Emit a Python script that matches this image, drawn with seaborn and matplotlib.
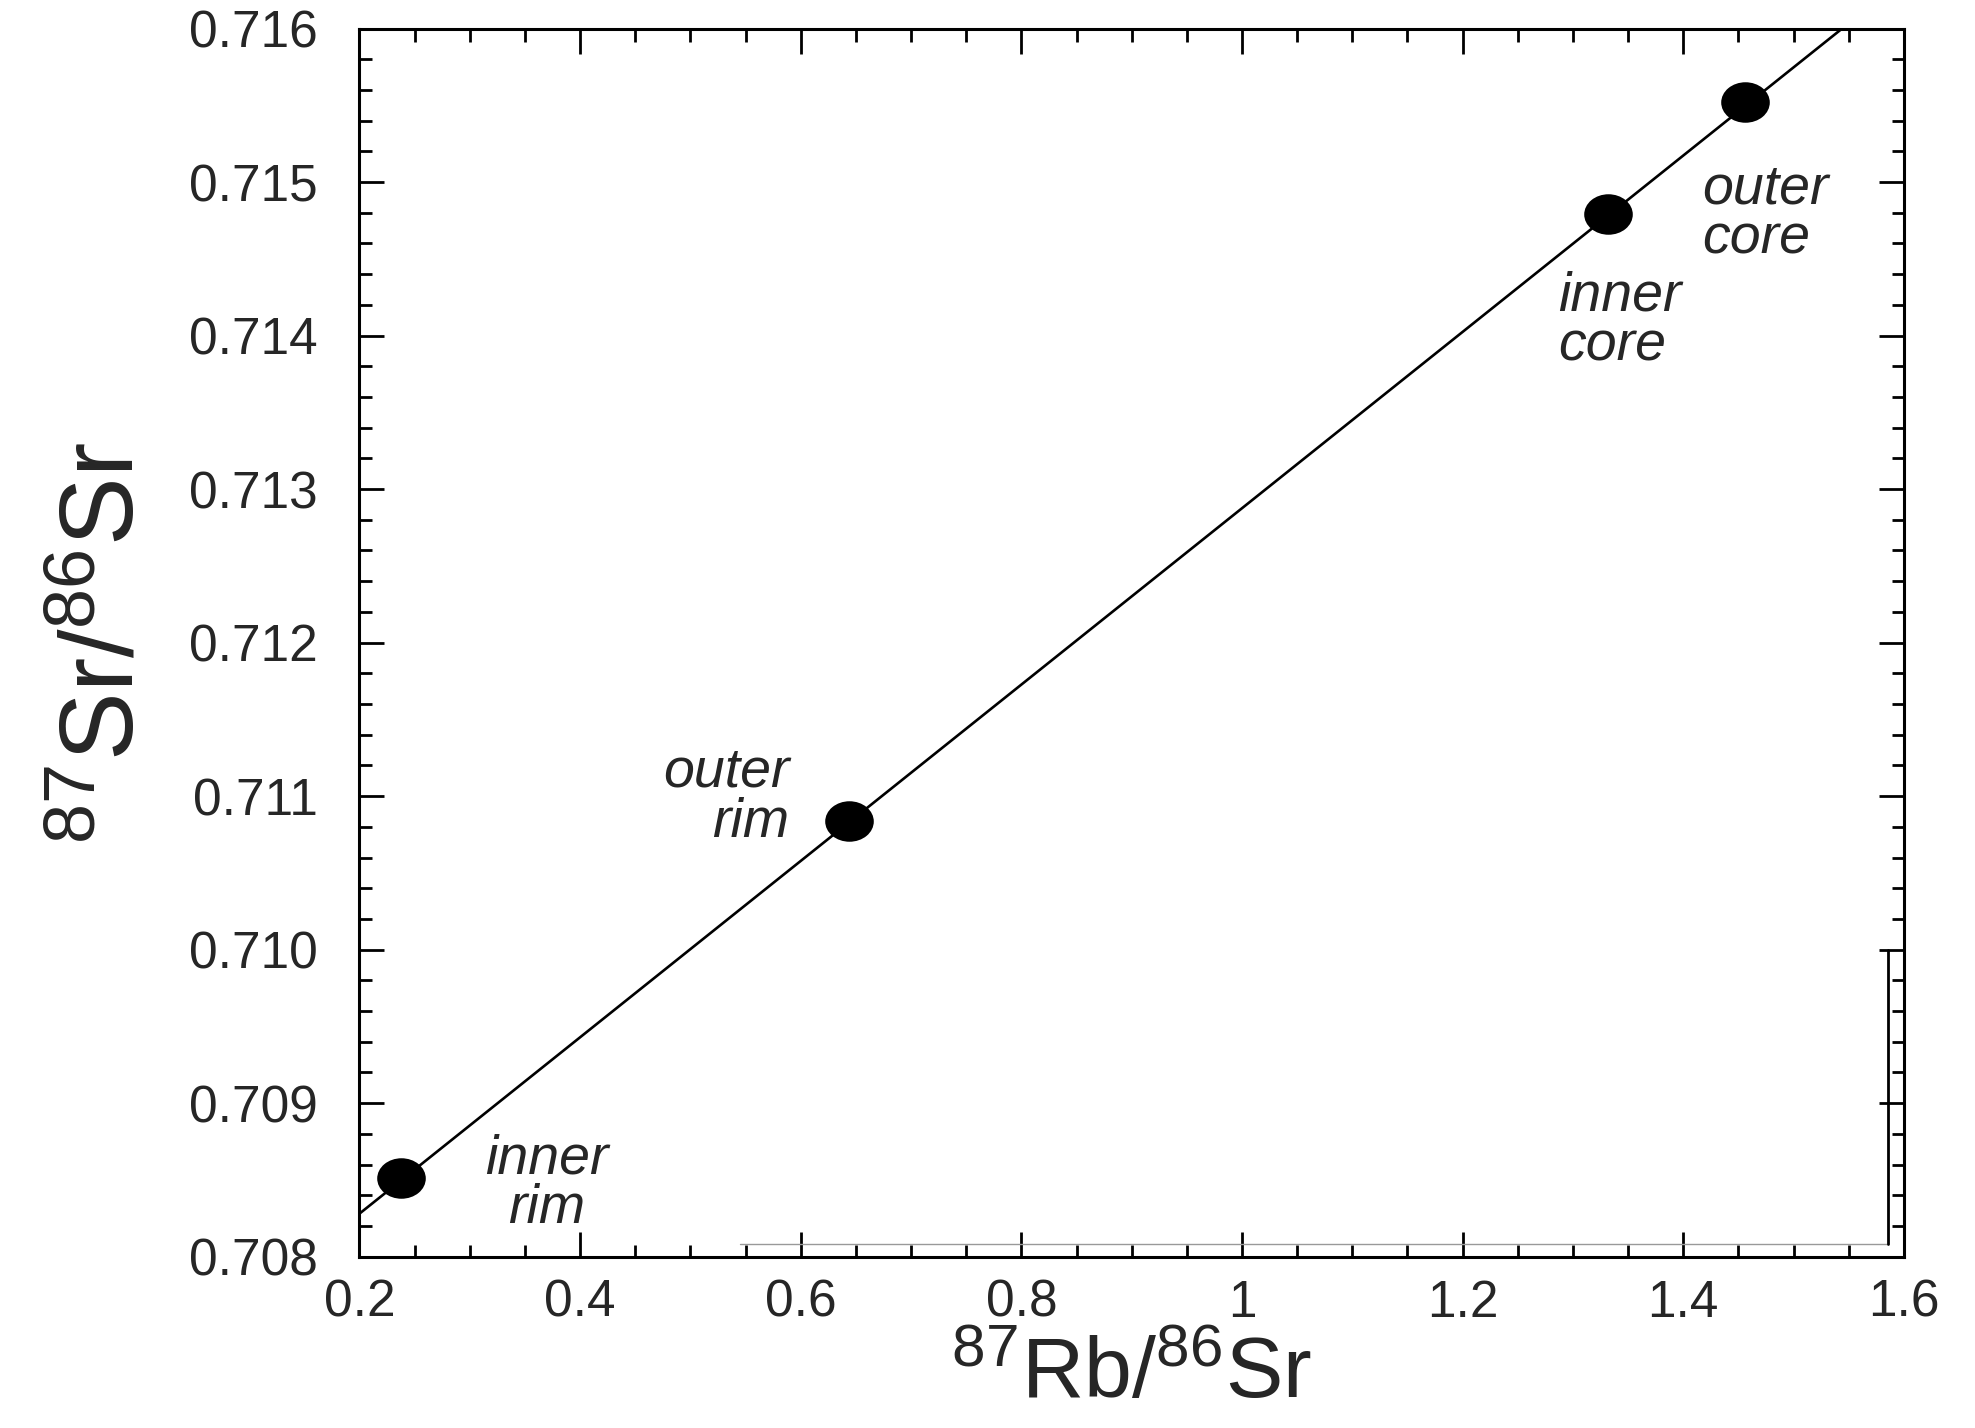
import numpy as np
import pandas as pd
import seaborn as sns
import matplotlib.pyplot as plt
from matplotlib.markers import MarkerStyle
from matplotlib.transforms import Affine2D
from matplotlib.ticker import MultipleLocator, FuncFormatter

# measured isotope ratios of the four zones
zones = ["inner rim", "outer rim", "inner core", "outer core"]
rb_sr = [0.238, 0.644, 1.332, 1.456]
sr_sr = [0.70851, 0.71084, 0.71479, 0.71552]

# isochron end points
iso_x = [0.2, 1.544]
iso_y = [0.70828, 0.716]

# label anchors
lab_x = [0.37, 0.59, 1.287, 1.4175]
lab_y = [0.70847, 0.71099, 0.71409, 0.71479]
lab_ha = ["center", "right", "left", "left"]

df = pd.DataFrame({"zone": zones, "rb": rb_sr, "sr": sr_sr})
line_df = pd.DataFrame({"x": iso_x, "y": iso_y})

sns.set_theme(style="ticks")
plt.rcParams["font.family"] = ["Liberation Sans", "DejaVu Sans"]
plt.rcParams["mathtext.fontset"] = "custom"
plt.rcParams["mathtext.rm"] = "Liberation Sans"
plt.rcParams["mathtext.it"] = "Liberation Sans:italic"

fig = plt.figure(figsize=(19.75, 14.28), dpi=100)
ax = fig.add_axes([0.182, 0.12, 0.782, 0.86])

sns.lineplot(data=line_df, x="x", y="y", color="black", linewidth=1.9, ax=ax)
dot = MarkerStyle("o", transform=Affine2D().scale(1.2, 1.0))
sns.scatterplot(data=df, x="rb", y="sr", marker=dot, s=850, color="black",
                edgecolor="black", linewidth=0, zorder=5, ax=ax)

for z, x, y, ha in zip(zones, lab_x, lab_y, lab_ha):
    ax.text(x, y, z.replace(" ", "\n"), ha=ha, va="center", style="italic",
            fontsize=40, linespacing=0.95, multialignment=ha)

ax.set_xlim(0.2, 1.6)
ax.set_ylim(0.708, 0.716)
ax.xaxis.set_major_locator(MultipleLocator(0.2))
ax.xaxis.set_minor_locator(MultipleLocator(0.05))
ax.yaxis.set_major_locator(MultipleLocator(0.001))
ax.yaxis.set_minor_locator(MultipleLocator(0.0002))
ax.xaxis.set_major_formatter(FuncFormatter(lambda v, p: f"{v:g}"))
ax.yaxis.set_major_formatter(FuncFormatter(lambda v, p: f"{v:.3f}"))

ax.tick_params(which="both", direction="in", top=True, right=True,
               color="black", width=2.0)
ax.tick_params(which="major", length=18, labelsize=37)
ax.tick_params(which="minor", length=9)
ax.tick_params(axis="y", which="major", pad=30)
ax.tick_params(axis="x", which="major", pad=16)
for sp in ax.spines.values():
    sp.set_linewidth(2.2)
    sp.set_color("black")

# leftover frame fragment in the lower right corner of the original
ax.plot([0.545, 1.586], [0.70808, 0.70808], color="#999999", linewidth=1.0)
ax.plot([1.586, 1.586], [0.70808, 0.71], color="black", linewidth=2.0)

ax.set_xlabel("$^{87}$Rb/$^{86}$Sr", fontsize=62, labelpad=6)
ax.set_ylabel("$^{87}$Sr/$^{86}$Sr", fontsize=74, labelpad=24)

fig.savefig("out.png", dpi=100, facecolor="white")
